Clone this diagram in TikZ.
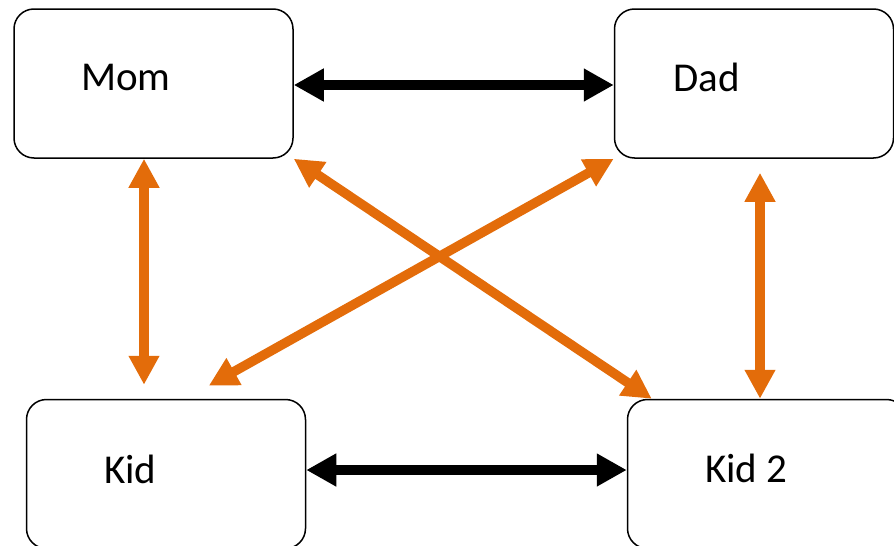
\documentclass[tikz,border=0pt]{standalone}
\usepackage{fontspec}
\setmainfont{Carlito}
\usetikzlibrary{arrows.meta,calc}
\definecolor{accorange}{HTML}{E36C0A}
\tikzset{
  box/.style={draw=black, line width=1.5pt, rounded corners=20pt, minimum width=279pt, minimum height=149pt, inner sep=0pt, fill=white},
  lbl/.style={anchor=base west, inner sep=0pt, font=\fontsize{41}{41}\selectfont},
  blackarrow/.style={line width=10.5pt, draw=black, {Triangle[length=30pt,width=31pt]}-{Triangle[length=30pt,width=31pt]}},
  orangearrow/.style={line width=9.5pt, draw=accorange, {Triangle[length=29pt,width=29pt]}-{Triangle[length=29pt,width=29pt]}}
}
\begin{document}
\begin{tikzpicture}[x=1pt,y=-1pt]
\useasboundingbox (0,0) rectangle (894,546);
\clip (0,0) rectangle (894,546);
\node[box] (mom) at (153.5,83.5) {};
\node[box] (dad) at (754,83.5) {};
\node[box] (kid) at (166,474) {};
\node[box] (kidb) at (767,474) {};
\node[lbl] (tmom) at (81,90) {Mom};
\node[lbl] (tdad) at (673,91) {Dad};
\node[lbl] (tkid) at (104,483) {Kid};
\node[lbl] (tkidb) at (705,482) {Kid 2};
\coordinate (xl) at (144,0);
\coordinate (xr) at (760,0);
\draw[blackarrow] ($(mom.east)+(0,1.5)$) -- ($(dad.west)+(0,1.5)$);
\draw[blackarrow] ($(kid.east)+(0,-4)$) -- ($(kidb.west)+(0,-4)$);
\draw[orangearrow, shorten >=14pt] (mom.south -| xl) -- (kid.north -| xl);
\draw[orangearrow, shorten <=14pt] (dad.south -| xr) -- (kidb.north -| xr);
\draw[orangearrow] (mom.south east) -- ($(kidb.north west)+(25,0)$);
\draw[orangearrow] (dad.south west) -- ($(kid.north west)+(183,-13)$);
\end{tikzpicture}
\end{document}
